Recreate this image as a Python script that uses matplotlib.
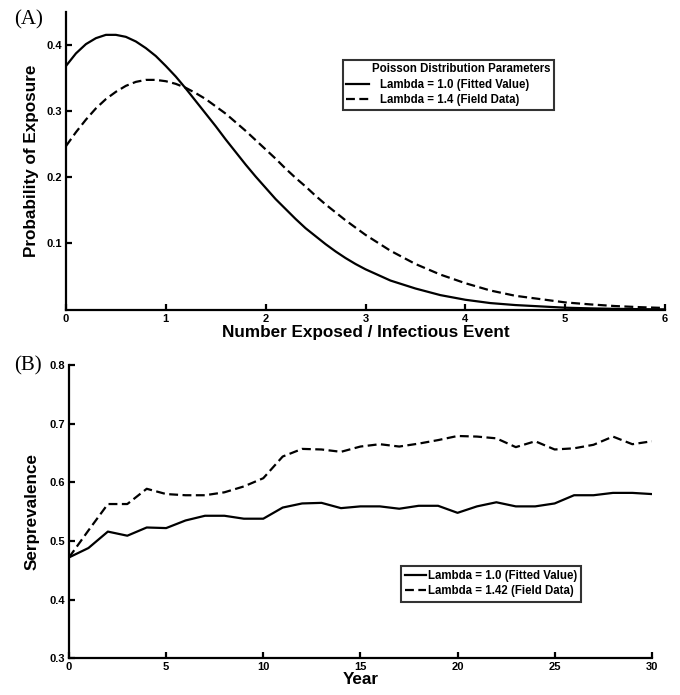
import matplotlib
matplotlib.use("Agg")
import matplotlib.pyplot as plt

# ---- Panel A data ----
a_x = [0.0, 0.1, 0.2, 0.3, 0.4, 0.5, 0.6, 0.7, 0.8, 0.9,
       1.0, 1.1, 1.2, 1.3, 1.4, 1.5, 1.6, 1.7, 1.8, 1.9,
       2.0, 2.1, 2.2, 2.3, 2.4, 2.5, 2.6, 2.7, 2.8, 2.9,
       3.0, 3.25, 3.5, 3.75, 4.0, 4.25, 4.5, 4.75, 5.0, 5.25, 5.5, 5.75, 6.0]
a_fit = [0.368, 0.387, 0.401, 0.410, 0.415, 0.415, 0.412, 0.405, 0.395, 0.383,
         0.368, 0.352, 0.334, 0.315, 0.296, 0.277, 0.257, 0.238, 0.219, 0.201,
         0.184, 0.167, 0.152, 0.137, 0.123, 0.111, 0.099, 0.088, 0.078, 0.069,
         0.061, 0.044, 0.032, 0.022, 0.015, 0.010, 0.007, 0.005, 0.003, 0.002,
         0.0013, 0.0008, 0.0005]
a_field = [0.247, 0.268, 0.287, 0.304, 0.318, 0.329, 0.338, 0.344, 0.347, 0.347,
           0.345, 0.341, 0.335, 0.327, 0.318, 0.307, 0.296, 0.283, 0.270, 0.256,
           0.242, 0.228, 0.213, 0.199, 0.186, 0.172, 0.159, 0.147, 0.135, 0.124,
           0.113, 0.089, 0.069, 0.053, 0.040, 0.029, 0.021, 0.016, 0.011, 0.008,
           0.0055, 0.0038, 0.0026]
a_labels = ["Lambda = 1.0 (Fitted Value)", "Lambda = 1.4 (Field Data)"]
a_legend_title = "Poisson Distribution Parameters"

# ---- Panel B data ----
b_years = list(range(0, 31))
b_fit = [0.472, 0.488, 0.516, 0.509, 0.523, 0.522, 0.535, 0.543, 0.543, 0.538,
         0.538, 0.557, 0.564, 0.565, 0.556, 0.559, 0.559, 0.555, 0.560, 0.560,
         0.548, 0.559, 0.566, 0.559, 0.559, 0.564, 0.578, 0.578, 0.582, 0.582,
         0.580]
b_field = [0.472, 0.518, 0.563, 0.563, 0.589, 0.580, 0.578, 0.578, 0.583, 0.593,
           0.607, 0.644, 0.657, 0.656, 0.652, 0.661, 0.665, 0.661, 0.666, 0.672,
           0.679, 0.678, 0.675, 0.660, 0.670, 0.656, 0.658, 0.664, 0.678, 0.665,
           0.670]
b_labels = ["Lambda = 1.0 (Fitted Value)", "Lambda = 1.42 (Field Data)"]

SANS = "Liberation Sans"
SERIF = "Liberation Serif"
plt.rcParams["font.family"] = [SANS, "DejaVu Sans"]
plt.rcParams["font.weight"] = "bold"

fig = plt.figure(figsize=(6.8, 6.95), dpi=100)

LABEL_FS = 12.3
LEG_FS = 8.3
DASH = (0, (4, 2))


def style_axes(ax):
    ax.spines["top"].set_visible(False)
    ax.spines["right"].set_visible(False)
    ax.spines["left"].set_linewidth(1.6)
    ax.spines["bottom"].set_linewidth(1.6)
    ax.tick_params(direction="in", length=4, width=1.6, labelsize=8, pad=3)
    for lab in ax.get_xticklabels() + ax.get_yticklabels():
        lab.set_fontweight("bold")


# Panel A
axA = fig.add_axes([0.097, 0.5544, 0.881, 0.4288])
axA.plot(a_x, a_fit, color="black", lw=1.6, ls="-", label=a_labels[0])
axA.plot(a_x, a_field, color="black", lw=1.6, ls=DASH, label=a_labels[1])
axA.set_xlim(0, 6)
axA.set_ylim(0, 0.45)
axA.set_xticks([0, 1, 2, 3, 4, 5, 6])
axA.set_yticks([0.1, 0.2, 0.3, 0.4])
style_axes(axA)
axA.set_xlabel("Number Exposed / Infectious Event", fontsize=LABEL_FS, fontweight="bold", labelpad=1)
axA.set_ylabel("Probability of Exposure", fontsize=LABEL_FS, fontweight="bold", labelpad=5)
legA = axA.legend(loc="upper left", bbox_to_anchor=(0.4624, 0.838),
                  title="        " + a_legend_title,
                  fontsize=LEG_FS, title_fontproperties={"weight": "bold", "size": LEG_FS},
                  frameon=True, fancybox=False, edgecolor="black", handlelength=2.0,
                  handletextpad=0.87, borderpad=0.3, labelspacing=0.3, borderaxespad=0,
                  alignment="left")
legA.get_frame().set_linewidth(1.5)
for t in legA.get_texts():
    t.set_fontweight("bold")
fig.text(14 / 680, 1 - 20 / 695, "(A)", fontsize=15, family=SERIF, fontweight="normal",
         ha="left", va="center")

# Panel B
axB = fig.add_axes([0.1015, 0.0528, 0.857, 0.422])
axB.plot(b_years, b_fit, color="black", lw=1.6, ls="-", label=b_labels[0])
axB.plot(b_years, b_field, color="black", lw=1.6, ls=DASH, label=b_labels[1])
axB.set_xlim(0, 30)
axB.set_ylim(0.3, 0.8)
axB.set_xticks([0, 5, 10, 15, 20, 25, 30])
axB.set_yticks([0.3, 0.4, 0.5, 0.6, 0.7, 0.8])
style_axes(axB)
axB.set_xlabel("Year", fontsize=LABEL_FS, fontweight="bold", labelpad=0)
axB.set_ylabel("Serprevalence", fontsize=LABEL_FS, fontweight="bold", labelpad=7)
legB = axB.legend(loc="upper left", bbox_to_anchor=(0.5695, 0.3147), fontsize=LEG_FS,
                  frameon=True, fancybox=False, edgecolor="black", handlelength=1.85,
                  handletextpad=0.15, borderpad=0.35, labelspacing=0.3, borderaxespad=0)
legB.get_frame().set_linewidth(1.5)
for t in legB.get_texts():
    t.set_fontweight("bold")
fig.text(14 / 680, 1 - 366 / 695, "(B)", fontsize=15, family=SERIF, fontweight="normal",
         ha="left", va="center")

fig.savefig("out.png", dpi=100)
